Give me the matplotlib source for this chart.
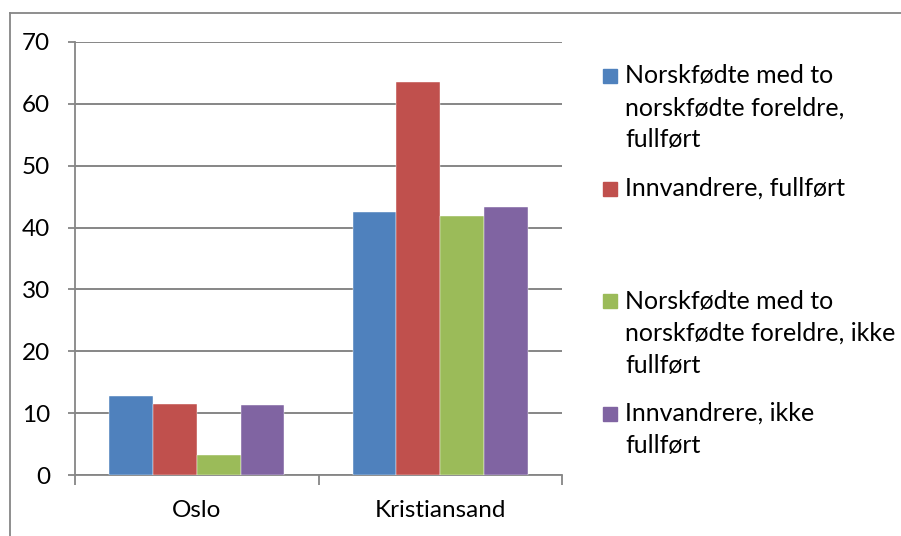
import matplotlib
matplotlib.use("Agg")
import matplotlib.pyplot as plt
from matplotlib.patches import Rectangle
from matplotlib.lines import Line2D
import numpy as np

plt.rcParams['font.family'] = ['Lato', 'DejaVu Sans']

categories = ["Oslo", "Kristiansand"]
series_names = [
    "Norskfødte med to\nnorskfødte foreldre,\nfullført",
    "Innvandrere, fullført",
    "Norskfødte med to\nnorskfødte foreldre, ikke\nfullført",
    "Innvandrere, ikke\nfullført",
]
values = [
    [12.7, 42.5],
    [11.4, 63.6],
    [3.2, 41.8],
    [11.3, 43.4],
]
colors = ["#4F81BD", "#C0504D", "#9BBB59", "#8064A2"]
yticks = [0, 10, 20, 30, 40, 50, 60, 70]

W, H = 901, 536
fig = plt.figure(figsize=(W / 100, H / 100), dpi=100)
ax = fig.add_axes([75 / W, (H - 475) / H, (562 - 75) / W, (475 - 42) / H])

x = np.arange(len(categories))
bw = 0.18
for i, (vals, c) in enumerate(zip(values, colors)):
    ax.bar(x + (i - 1.5) * bw, vals, width=bw, color=c, zorder=3,
           edgecolor='white', linewidth=0.3)

ax.set_xlim(-0.5, len(categories) - 0.5)
ax.set_ylim(0, 70)
ax.set_yticks(yticks)
ax.set_yticklabels([str(v) for v in yticks], fontsize=17.5)
ax.set_xticks(x)
ax.set_xticklabels(categories, fontsize=17.5)
ax.tick_params(axis='x', length=0, pad=18)
ax.tick_params(axis='y', length=5, color='#868686', width=1.3, pad=13)
for yv in yticks:
    ax.axhline(yv, color='#868686', linewidth=1.4, zorder=1)
ax.set_xticks(np.arange(-0.5, len(categories)), minor=True)
ax.tick_params(axis='x', which='minor', length=7, color='#868686', width=1.3)
for s in ['top', 'right']:
    ax.spines[s].set_visible(False)
for s in ['left', 'bottom']:
    ax.spines[s].set_color('#868686')
    ax.spines[s].set_linewidth(1.3)

# legend (Excel-like evenly spaced slots)
top0 = 76
slot = 112.5
for i, (name, c) in enumerate(zip(series_names, colors)):
    yc = top0 + i * slot
    fig.patches.append(Rectangle((603 / W, (H - yc - 7) / H), 14 / W, 14 / H,
                                 transform=fig.transFigure, color=c))
    for j, ln in enumerate(name.split("\n")):
        fig.text(625 / W, (H - (yc + j * 32)) / H, ln, fontsize=18,
                 va='center', ha='left')

# outer border (top and left visible)
fig.add_artist(Line2D([9.5 / W, 1], [(H - 12.5) / H, (H - 12.5) / H],
                      transform=fig.transFigure, color='#868686', linewidth=1.3))
fig.add_artist(Line2D([9.5 / W, 9.5 / W], [0, (H - 12.5) / H],
                      transform=fig.transFigure, color='#868686', linewidth=1.3))

fig.savefig("out.png", dpi=100)
